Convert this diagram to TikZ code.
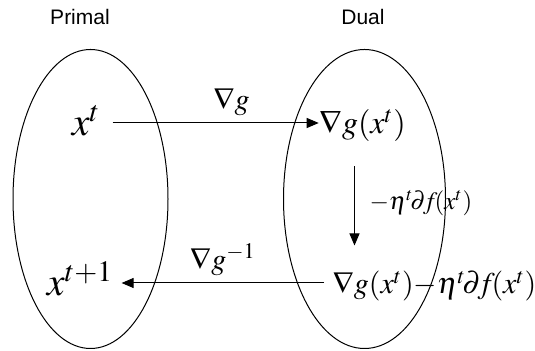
\documentclass[tikz,border=0pt]{standalone}
\usepackage{amsmath}
\usepackage{mathptmx}
\usepackage{fontspec}
\setsansfont{Liberation Sans}
\usetikzlibrary{arrows.meta,positioning,calc}

\begin{document}
\begin{tikzpicture}[x=0.5pt, y=0.5pt, line width=0.5pt,
    >={Triangle[length=6pt, width=5pt]},
    space/.style={font=\sffamily\fontsize{10.5}{12}\selectfont},
    term/.style={inner sep=0pt, text height=11pt, text depth=0pt, font=\fontsize{16}{18}\selectfont},
    point/.style={inner sep=0pt, text height=13pt, text depth=0pt, font=\fontsize{20}{24}\selectfont},
    maplabel/.style={font=\fontsize{15}{17}\selectfont}]
  \useasboundingbox (0,0) rectangle (535,351);
  % the two spaces
  \node[space] (primal) at (80,334) {Primal};
  \node[space] (dual) at (363,334) {Dual};
  \draw (90.5,152) ellipse [x radius=77.5, y radius=149.5];
  \draw (364.5,152) ellipse [x radius=81, y radius=149.5];
  % points
  \node[point] (xt) at (86,228) {$x^t$};
  \node[point] (xnext) at (80,68) {$x^{t+1}$};
  \node[term] (gxt) at (362.5,228) {$\nabla g(x^t)$};
  \node[term, anchor=west, font=\fontsize{15}{17}\selectfont] (step) at (332,68)
    {$\nabla g(x^t){-}\eta^t\!\partial\!f\!(x^t)$};
  % maps
  \draw[->, shorten <=6pt] (xt) -- node[maplabel, above, pos=0.6] {$\nabla g$} (gxt);
  \draw[->, shorten <=16pt, shorten >=13pt] ([xshift=-4pt]gxt.south) -- ([xshift=-4pt]gxt.south |- step.north)
    node[midway, right, xshift=4pt, font=\fontsize{12.5}{14}\selectfont] {$-\eta^t\!\partial\!f\!(x^t)$};
  \draw[->, shorten <=4pt, shorten >=4pt] (step) -- node[maplabel, above, pos=0.5] {$\nabla g^{-1}$} (xnext);
\end{tikzpicture}
\end{document}
